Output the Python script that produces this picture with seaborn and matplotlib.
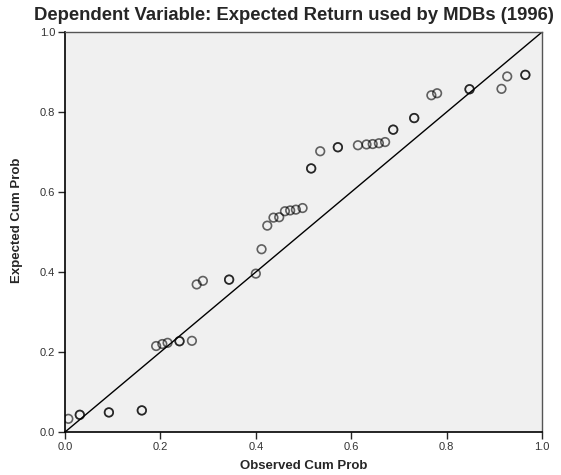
import pandas as pd
import seaborn as sns
import matplotlib.pyplot as plt

# observed vs expected cumulative probabilities
# (points drawn darker in the original are listed twice: overlapping cases)
observed = [0.007, 0.031, 0.031, 0.092, 0.092, 0.161, 0.161,
            0.191, 0.204, 0.215, 0.240, 0.240, 0.266,
            0.276, 0.289, 0.344, 0.344, 0.400, 0.412, 0.424, 0.437, 0.449,
            0.461, 0.472, 0.484, 0.498,
            0.516, 0.516, 0.535, 0.572, 0.572, 0.614, 0.632, 0.645, 0.658, 0.671,
            0.688, 0.688, 0.732, 0.732, 0.768, 0.780, 0.848, 0.848,
            0.915, 0.927, 0.965, 0.965]
expected = [0.033, 0.043, 0.043, 0.049, 0.049, 0.054, 0.054,
            0.215, 0.220, 0.223, 0.227, 0.227, 0.228,
            0.369, 0.378, 0.381, 0.381, 0.396, 0.457, 0.516, 0.536, 0.537,
            0.552, 0.554, 0.556, 0.560,
            0.659, 0.659, 0.702, 0.712, 0.712, 0.717, 0.719, 0.720, 0.722, 0.725,
            0.756, 0.756, 0.785, 0.785, 0.842, 0.847, 0.857, 0.857,
            0.858, 0.889, 0.893, 0.893]

df = pd.DataFrame({'Observed Cum Prob': observed, 'Expected Cum Prob': expected})

sns.set_style('ticks')
plt.rcParams['font.family'] = ['Liberation Sans', 'DejaVu Sans']

fig = plt.figure(figsize=(5.61, 4.75), dpi=100)
ax = fig.add_axes([0.1159, 0.0905, 0.8503, 0.842])
ax.set_facecolor('#f0f0f0')

ax.axline((0, 0), (1, 1), color='black', lw=1.0, zorder=1)
sns.scatterplot(data=df, x='Observed Cum Prob', y='Expected Cum Prob', ax=ax,
                marker='o', s=38, facecolor='none',
                edgecolor=(0, 0, 0, 0.6), linewidth=1.2, zorder=2)

ax.set_xlim(0, 1)
ax.set_ylim(0, 1)
ax.set_xticks([0, 0.2, 0.4, 0.6, 0.8, 1.0])
ax.set_yticks([0, 0.2, 0.4, 0.6, 0.8, 1.0])
ax.xaxis.set_major_formatter(plt.FormatStrFormatter('%.1f'))
ax.yaxis.set_major_formatter(plt.FormatStrFormatter('%.1f'))
ax.tick_params(labelsize=8, labelcolor='#333333', length=5, width=1, direction='out', pad=2)

for s in ['left', 'bottom']:
    ax.spines[s].set_color('black')
    ax.spines[s].set_linewidth(1.2)
for s in ['top', 'right']:
    ax.spines[s].set_visible(True)
    ax.spines[s].set_color('#555555')
    ax.spines[s].set_linewidth(1.0)

ax.set_xlabel('Observed Cum Prob', fontsize=9.5, fontweight='bold')
ax.set_ylabel('Expected Cum Prob', fontsize=9.5, fontweight='bold')
ax.xaxis.set_label_coords(0.5, -0.07)
ax.yaxis.set_label_coords(-0.088, 0.53)
fig.text(0.524, 0.968, 'Dependent Variable: Expected Return used by MDBs (1996)',
         ha='center', va='center', fontsize=13.3, fontweight='bold')

fig.savefig('out.png', dpi=100)
